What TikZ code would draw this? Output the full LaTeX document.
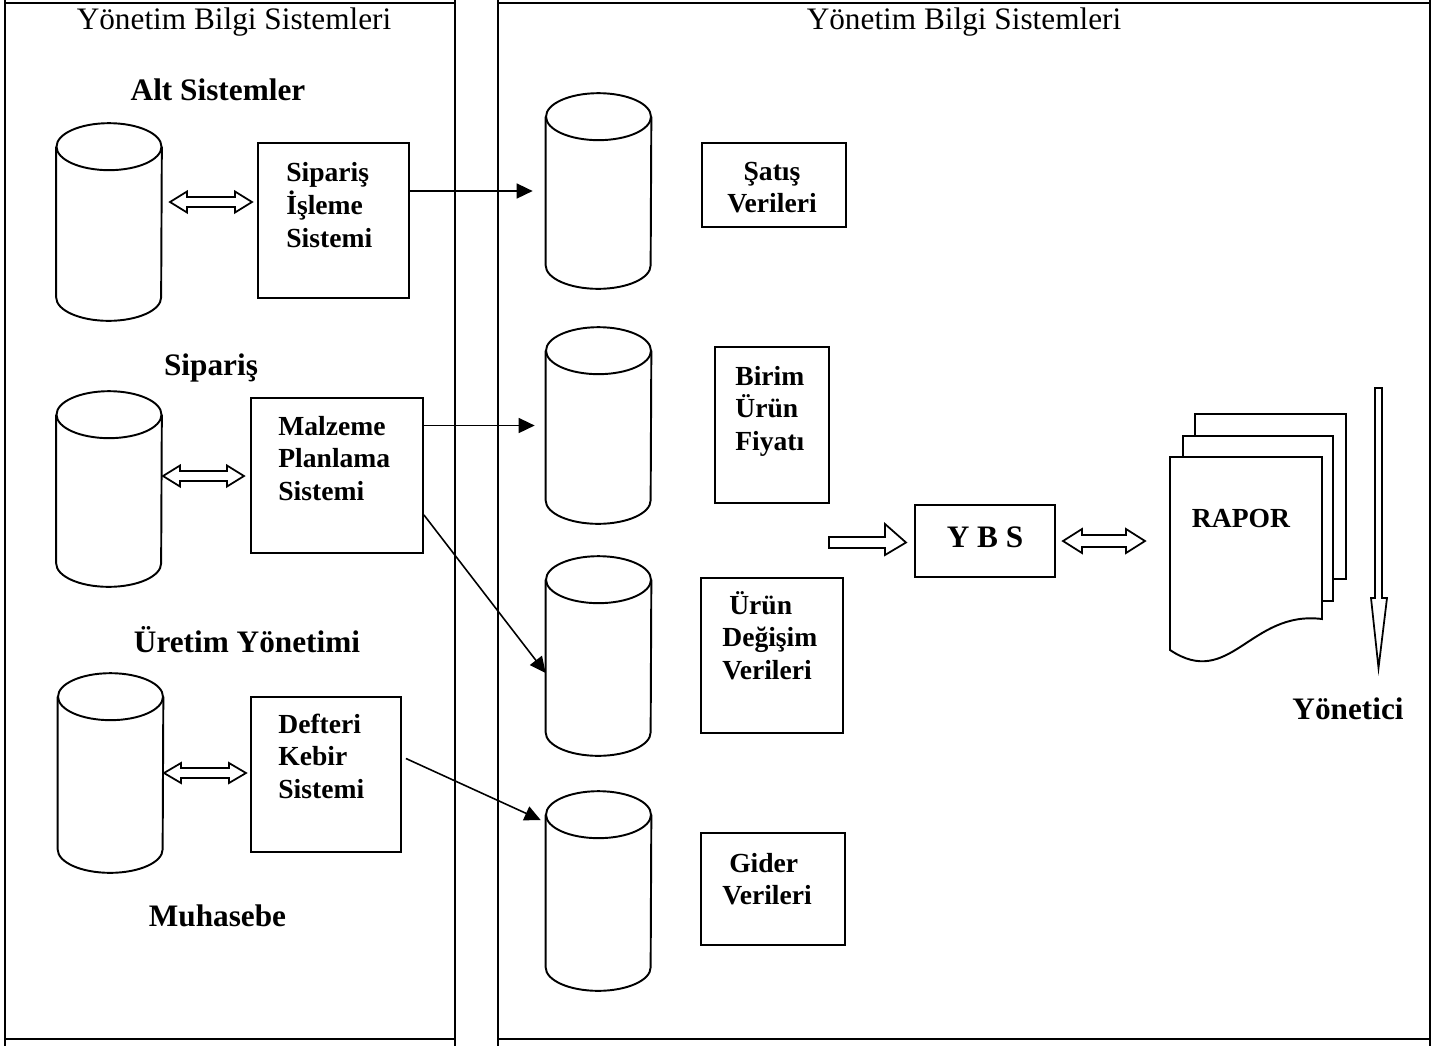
\documentclass[tikz,border=0pt]{standalone}
\usepackage{fontspec}
\setmainfont{Liberation Serif}
\usetikzlibrary{arrows.meta,calc}

% text sizes (1 unit = 0.02cm)
\newcommand\ttlfont{\fontsize{17.8}{21}\selectfont}
\newcommand\lblfont{\fontsize{17.8}{21}\selectfont\bfseries}
\newcommand\boxfont{\fontsize{15.7}{18.7}\selectfont\bfseries}

% database cylinder drawn around an invisible body node
\newcommand\drawcyl[1]{%
  \draw[shape line] (#1.north west) -- (#1.south west)
    arc[start angle=180,end angle=360,x radius=1.05cm,y radius=0.47cm]
    -- (#1.north east);
  \draw[shape line] (#1.north) ellipse[x radius=1.05cm,y radius=0.47cm];}

% hollow double-headed block arrow: x1, x2, y, half shaft, half head, head length
\newcommand\hollowdbl[6]{%
  \draw[hollow] (#1,#3) -- ({#1+#6},{#3-#5}) -- ({#1+#6},{#3-#4})
    -- ({#2-#6},{#3-#4}) -- ({#2-#6},{#3-#5}) -- (#2,#3)
    -- ({#2-#6},{#3+#5}) -- ({#2-#6},{#3+#4}) -- ({#1+#6},{#3+#4})
    -- ({#1+#6},{#3+#5}) -- cycle;}

\begin{document}
\begin{tikzpicture}[x=0.02cm,y=-0.02cm,
  shape line/.style={line width=1.1pt},
  frame/.style={line width=1.1pt},
  box/.style={draw,line width=1.1pt,inner sep=0pt},
  cylbody/.style={inner sep=0pt,minimum width=2.1cm},
  conn/.style={line width=0.9pt,-{Triangle[length=0.32cm,width=0.3cm]}},
  hollow/.style={draw,line width=1pt,fill=white,line join=miter},
  sheet/.style={draw,line width=1.1pt,fill=white},
  ttl/.style={anchor=base,inner sep=0pt,font=\ttlfont},
  lbl/.style={anchor=base,inner sep=0pt,font=\lblfont},
  btxt/.style={anchor=base west,inner sep=0pt,font=\boxfont},
  ctxt/.style={anchor=base,inner sep=0pt,font=\boxfont}]

\useasboundingbox (0,0) rectangle (1443,1046);

% two panels
\draw[frame] (5,0) -- (5,1046);
\draw[frame] (455,0) -- (455,1046);
\draw[frame] (5,3) -- (455,3);
\draw[frame] (5,1039) -- (455,1039);
\draw[frame] (498,0) -- (498,1046);
\draw[frame] (1430,0) -- (1430,1046);
\draw[frame] (498,3) -- (1430,3);
\draw[frame] (498,1039) -- (1430,1039);

% panel titles and section labels
\node[ttl] (t1) at (234,29) {Yönetim Bilgi Sistemleri};
\node[ttl] (t2) at (964,29) {Yönetim Bilgi Sistemleri};
\node[lbl] (l1) at (218,100) {Alt Sistemler};
\node[lbl] (l2) at (211,375) {Sipariş};
\node[lbl] (l3) at (247,652) {Üretim Yönetimi};
\node[lbl] (l4) at (217.5,926) {Muhasebe};
\node[lbl] (l5) at (1348,719) {Yönetici};

% left-hand databases
\node[cylbody,minimum height=3.00cm] (c1) at (109,222) {};
\node[cylbody,minimum height=2.96cm] (c2) at (109,489) {};
\node[cylbody,minimum height=3.04cm] (c3) at (110.5,773) {};
\drawcyl{c1}\drawcyl{c2}\drawcyl{c3}

% right-hand databases
\node[cylbody,minimum height=2.96cm] (cA) at (598.5,191) {};
\node[cylbody,minimum height=2.98cm] (cB) at (598.5,425.5) {};
\node[cylbody,minimum height=3.04cm] (cC) at (598.5,656) {};
\node[cylbody,minimum height=3.04cm] (cD) at (598.5,891) {};
\drawcyl{cA}\drawcyl{cB}\drawcyl{cC}\drawcyl{cD}

% subsystem boxes
\node[box,minimum width=3.02cm,minimum height=3.10cm] (b1) at (333.5,220.5) {};
\node[box,minimum width=3.44cm,minimum height=3.10cm] (b2) at (337,475.5) {};
\node[box,minimum width=3.00cm,minimum height=3.10cm] (b3) at (326,774.5) {};
\node[btxt] (b1t) at (286,181) {\begin{tabular}[t]{@{}l@{}}Sipariş\\İşleme\\Sistemi\end{tabular}};
\node[btxt] (b2t) at (278,435) {\begin{tabular}[t]{@{}l@{}}Malzeme\\Planlama\\Sistemi\end{tabular}};
\node[btxt] (b3t) at (278,733) {\begin{tabular}[t]{@{}l@{}}Defteri\\Kebir\\Sistemi\end{tabular}};

% data boxes
\node[box,minimum width=2.88cm,minimum height=1.68cm] (sA) at (774,185) {};
\node[box,minimum width=2.28cm,minimum height=3.12cm] (sB) at (772,425) {};
\node[box,minimum width=2.84cm,minimum height=3.10cm] (sC) at (772,655.5) {};
\node[box,minimum width=2.88cm,minimum height=2.24cm] (sD) at (773,889) {};
\node[ctxt] (sAt) at (772,180) {\begin{tabular}[t]{@{}c@{}}Şatış\\Verileri\end{tabular}};
\node[btxt] (sBt) at (735,385) {\begin{tabular}[t]{@{}l@{}}Birim\\Ürün\\Fiyatı\end{tabular}};
\node[btxt] (sCt) at (722,614) {\begin{tabular}[t]{@{}l@{}}\hspace{0.25em}Ürün\\Değişim\\Verileri\end{tabular}};
\node[btxt] (sDt) at (722,872) {\begin{tabular}[t]{@{}l@{}}\hspace{0.25em}Gider\\Verileri\end{tabular}};

% system box
\node[box,minimum width=2.80cm,minimum height=1.44cm] (ybs) at (985,541) {};
\node[lbl] (ybst) at (985,547) {Y B S};

% subsystem to data flows
\draw[conn] (b1.east |- cA.west) -- ($(cA.west)+(-13,0)$);
\draw[conn] (b2.east |- cB.west) -- ($(cB.west)+(-11,0)$);
\draw[conn] ($(b2.south east)+(0,-39)$) -- ($(cC.west)+(0,17)$);
\draw[conn] ($(b3.east)+(4,-16)$) -- ($(cD.west)+(-5,-71)$);

% hollow exchange arrows
\hollowdbl{170}{252}{202}{5}{10.5}{17}
\hollowdbl{163}{244}{476}{5}{10.5}{17}
\hollowdbl{164}{246}{773}{5}{10}{17}
\hollowdbl{1063}{1145}{541}{6}{12}{19}
\draw[hollow] (829,537) -- (885,537) -- (885,524) -- (906,542.5)
  -- (885,555) -- (885,548) -- (829,548) -- cycle;

% report stack
\draw[sheet] (1195,414) rectangle (1346,579);
\draw[sheet] (1183,436) rectangle (1333,601);
\draw[sheet] (1170,457) -- (1322,457) -- (1322,619)
  .. controls (1250,610) and (1230,690) .. (1170,650) -- cycle;
\node[ctxt] (rap) at (1241,527) {RAPOR};

% downward arrow to the manager
\draw[hollow] (1375,388) -- (1382,388) -- (1382,598) -- (1387,598)
  -- (1378.5,668) -- (1371,598) -- (1375,598) -- cycle;

\end{tikzpicture}
\end{document}
